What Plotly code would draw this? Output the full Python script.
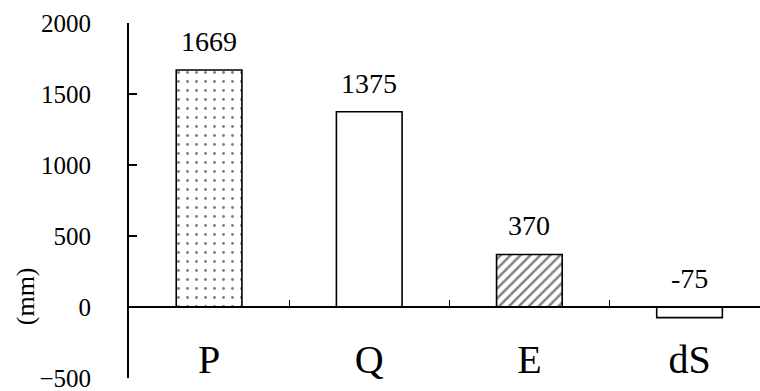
import plotly.graph_objects as go

# Water balance components (mm)
categories = ["P", "Q", "E", "dS"]
values = [1669, 1375, 370, -75]
fill_shapes = [".", "", "/", ""]

serif = "Liberation Serif"
y_min, y_max, y_step = -500, 2000, 500
label_gap = "\u00a0" * 5  # space between the y tick labels and the axis line

fig = go.Figure()
fig.add_trace(go.Bar(
    x=categories,
    y=values,
    width=0.41,
    marker=dict(
        color="white",
        line=dict(color="black", width=1.6),
        pattern=dict(shape=fill_shapes, fgcolor="black", bgcolor="white",
                     size=[9, 8, 7, 8], solidity=[0.08, 0.2, 0.35, 0.2],
                     fillmode="overlay"),
    ),
    showlegend=False,
))

# value labels above each bar (negative values sit above the zero line)
for cat, val in zip(categories, values):
    fig.add_annotation(
        x=cat, y=max(val, 0), text=str(val),
        showarrow=False, yanchor="bottom", yshift=11,
        font=dict(family=serif, size=28, color="black"),
    )

# y-axis title
fig.add_annotation(
    xref="paper", yref="paper", x=-0.165, y=0.23,
    text="(mm)", textangle=-90, showarrow=False,
    xanchor="center", yanchor="middle",
    font=dict(family=serif, size=26, color="black"),
)

zero_pos = (0 - y_min) / (y_max - y_min)

fig.update_layout(
    width=760, height=391,
    margin=dict(l=129, r=0, t=23, b=13, autoexpand=False),
    paper_bgcolor="white", plot_bgcolor="white",
    xaxis=dict(
        type="category",
        range=[-0.5, 3.44],
        anchor="free", position=zero_pos,
        showline=True, linecolor="black", linewidth=1.5,
        ticks="inside", ticklen=6, tickwidth=1.2, tickcolor="black",
        tickson="boundaries",
        showgrid=False, zeroline=False,
        ticklabelstandoff=17,
        automargin=False,
        tickfont=dict(family=serif, size=40, color="black"),
    ),
    yaxis=dict(
        range=[y_min, y_max],
        tickmode="linear", tick0=y_min, dtick=y_step,
        ticksuffix=label_gap,
        showline=True, linecolor="black", linewidth=1.5,
        ticks="inside", ticklen=8, tickwidth=2, tickcolor="black",
        showgrid=False, zeroline=False,
        automargin=False,
        ticklabeloverflow="allow",
        tickfont=dict(family=serif, size=25, color="black"),
    ),
    # overlay axis carrying the inward tick marks along the y axis line
    yaxis2=dict(
        overlaying="y", side="left", anchor="free", position=0,
        range=[y_min, y_max],
        tickmode="linear", tick0=y_min, dtick=y_step,
        ticks="inside", ticklen=8, tickwidth=2, tickcolor="black",
        showticklabels=False, showline=False,
        showgrid=False, zeroline=False,
        automargin=False,
    ),
)

fig.write_html("out.html")
